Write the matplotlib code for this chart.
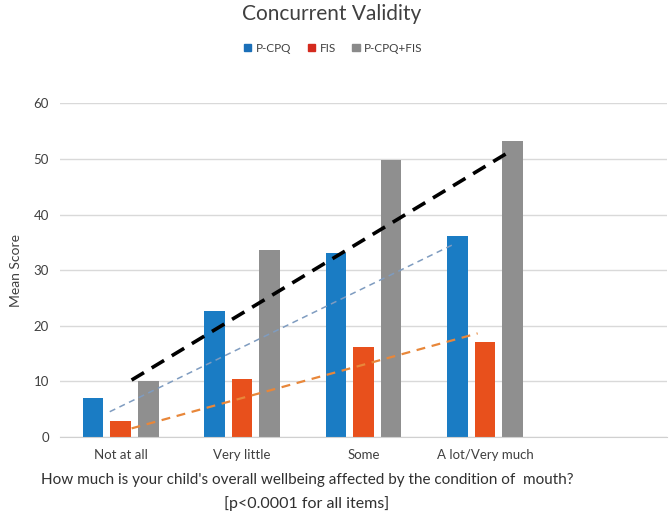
"""Concurrent validity bar chart: mean P-CPQ, FIS and combined scores by wellbeing response."""

import matplotlib.pyplot as plt
import numpy as np
from matplotlib.patches import Patch

plt.rcParams["font.family"] = ["Lato", "DejaVu Sans"]

CATEGORIES = ["Not at all", "Very little", "Some", "A lot/Very much", ""]
SERIES = ["P-CPQ", "FIS", "P-CPQ+FIS"]
P_CPQ = [6.9, 22.7, 33.1, 36.1]
FIS = [2.9, 10.4, 16.2, 17.1]
COMBINED = [10.0, 33.6, 49.9, 53.2]

# Dashed trend lines as drawn in the source (category index, value at ends)
TREND_COMBINED = ([0.09, 3.21], [10.2, 51.4])
TREND_P_CPQ = ([-0.09, 2.73], [4.5, 34.5])
TREND_FIS = ([0.09, 2.94], [1.5, 18.6])

COLORS = ["#1a7cc4", "#e8501c", "#8f8f8f"]
LEGEND_COLORS = ["#1a6fb8", "#d42a1e", "#8a8a8a"]

fig = plt.figure(figsize=(6.71, 5.17), dpi=100, facecolor="white")
ax = fig.add_axes([0.0894, 0.1553, 0.9046, 0.6447])

x = np.arange(len(CATEGORIES))
width = 0.17
step = 0.227
for k, vals in enumerate([P_CPQ, FIS, COMBINED]):
    ax.bar(x[: len(vals)] + (k - 1) * step, vals, width=width, color=COLORS[k], zorder=2)

ax.plot(*TREND_P_CPQ, color="#7f9cc0", lw=1.1, ls=(0, (4, 3)), zorder=3)
ax.plot(*TREND_FIS, color="#e8873a", lw=1.6, ls=(0, (4, 3)), zorder=3)
ax.plot(*TREND_COMBINED, color="black", lw=2.6, ls=(0, (4, 2.5)), zorder=4)

ax.set_xlim(-0.5, len(CATEGORIES) - 0.5)
ax.set_ylim(0, 60)
ax.set_yticks(np.arange(0, 61, 10))
ax.set_xticks(x)
ax.set_xticklabels(CATEGORIES)
ax.tick_params(length=0, labelsize=9.5, colors="#404040", pad=9)
ax.tick_params(axis="y", pad=8)
ax.grid(axis="y", color="#d9d9d9", lw=1, zorder=0)
for name, spine in ax.spines.items():
    spine.set_visible(name == "bottom")
ax.spines["bottom"].set_color("#d0d0d0")
ax.set_ylabel("Mean Score", fontsize=10, color="#404040", labelpad=8)

fig.text(0.494, 0.972, "Concurrent Validity", ha="center", va="center",
         fontsize=15, color="#404040")
handles = [Patch(color=c) for c in LEGEND_COLORS]
fig.legend(handles, SERIES, loc="center", bbox_to_anchor=(0.497, 0.907), ncol=3,
           frameon=False, fontsize=8.5, handlelength=0.6, handleheight=0.6,
           handletextpad=0.4, columnspacing=1.4, labelcolor="#404040")

fig.text(0.458, 0.071, "How much is your child's overall wellbeing affected by the condition of  mouth?",
         ha="center", va="center", fontsize=11, color="#303030")
fig.text(0.457, 0.027, "[p<0.0001 for all items]", ha="center", va="center",
         fontsize=11.5, color="#303030")

fig.savefig("out.png", dpi=100, facecolor="white")
